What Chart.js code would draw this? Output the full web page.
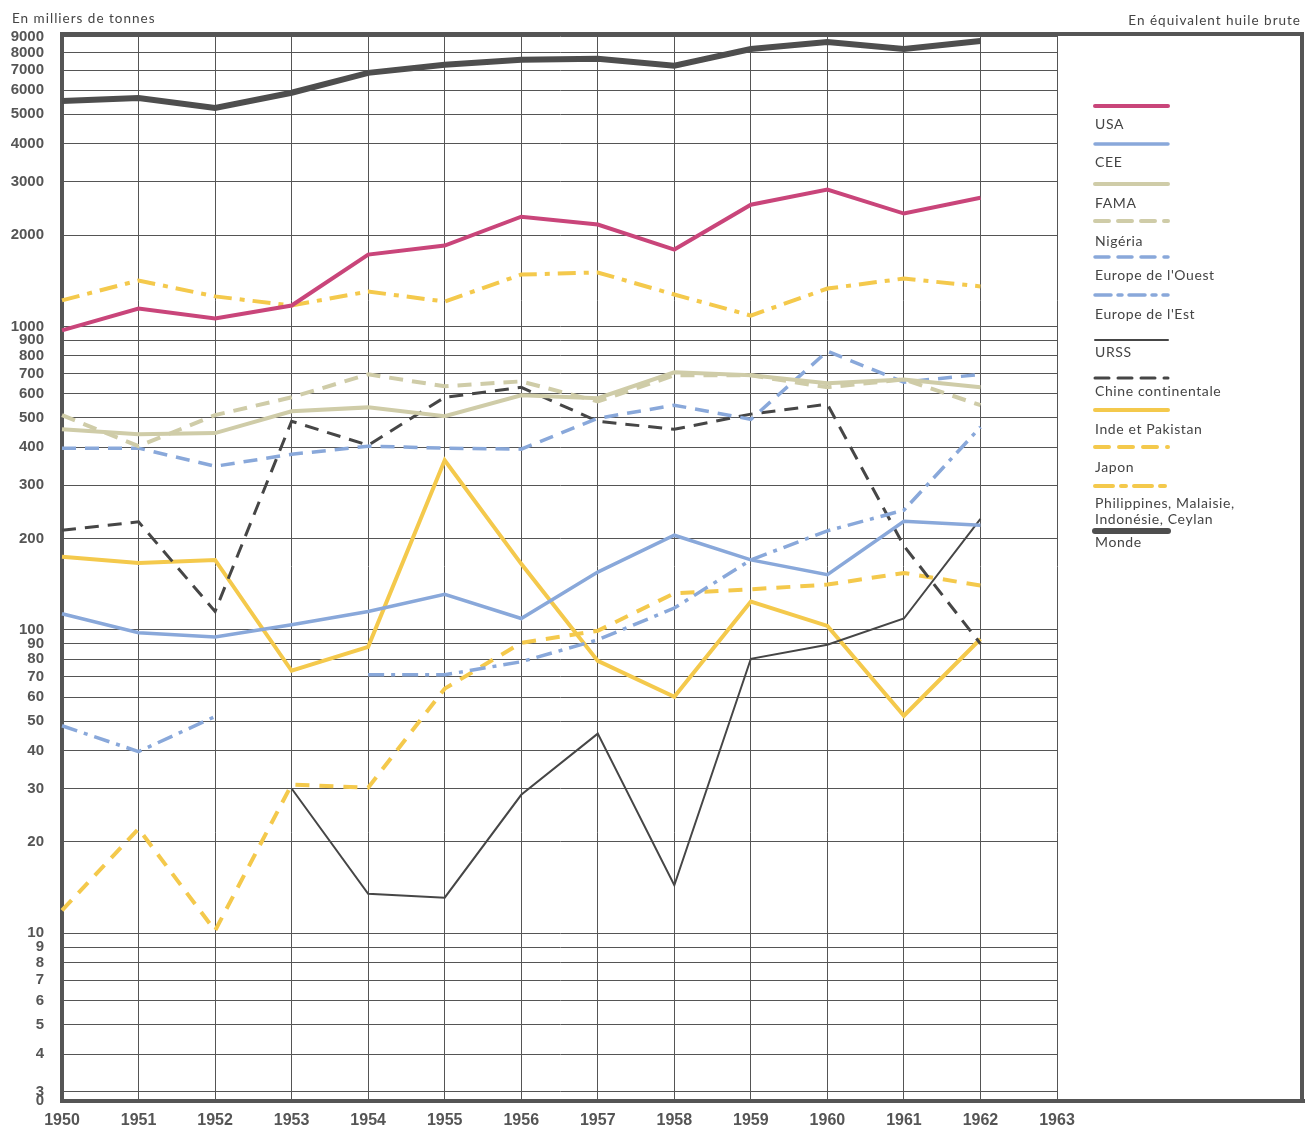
<!DOCTYPE html>
<html>
<head>
<meta charset="utf-8">
<script src="https://cdn.jsdelivr.net/npm/chart.js@4.4.1/dist/chart.umd.min.js"></script>
<style>
  body { margin: 0; background: #fff; }
  #wrap { width: 1305px; height: 1128px; }
</style>
</head>
<body>
<div id="wrap"><canvas id="chart" width="1305" height="1128"></canvas></div>
<script>
// years on the x axis (1963 has no data, only a grid line)
var years = ['1950','1951','1952','1953','1954','1955','1956','1957','1958','1959','1960','1961','1962','1963'];
var yTicks = [2.8, 3, 4, 5, 6, 7, 8, 9, 10, 20, 30, 40, 50, 60, 70, 80, 90, 100, 200, 300, 400, 500, 600, 700, 800, 900,
              1000, 2000, 3000, 4000, 5000, 6000, 7000, 8000, 9000];

// en milliers de tonnes
var usa        = [970, 1146, 1062, 1172, 1725, 1847, 2300, 2167, 1792, 2519, 2824, 2355, 2654];
var cee        = [113, 97.8, 94.8, 104, 115, 131, 109, 155, 205, 170, 152, 228, 221];
var fama       = [458, 441, 445, 525, 541, 506, 593, 580, 706, 690, 650, 669, 630];
var nigeria    = [510, 403, 510, 584, 695, 635, 659, 566, 690, 690, 630, 669, 550];
var europeOuest = [397, 397, 346, 379, 403, 397, 394, 498, 550, 494, 828, 655, 695];
var europeEst  = [48.3, 39.7, 51.8, null, 71.1, 71.1, 78.5, 92.7, 118, 170, 212, 248, 466];
var urss       = [null, null, null, 30.0, 13.5, 13.1, 28.6, 45.5, 14.4, 80.3, 89.3, 109, 232];
var chine      = [213, 227, 115, 487, 406, 584, 630, 487, 458, 514, 554, 189, 90];
var inde       = [174, 166, 170, 73.3, 87.9, 362, 165, 79, 60.2, 124, 103, 52.1, 93.3];
var japon      = [11.9, 22.1, 10.2, 30.9, 30.2, 64, 90.6, 99.3, 132, 136, 141, 154, 140];
var philippines = [1219, 1417, 1256, 1172, 1303, 1208, 1482, 1506, 1274, 1086, 1333, 1438, 1355];
var monde      = [5535, 5660, 5250, 5890, 6850, 7280, 7560, 7620, 7230, 8210, 8660, 8210, 8730];

var pink = '#c9457a', blue = '#89a8da', khaki = '#cfcca8', dark = '#464646', yellow = '#f4c94c';

function ds(label, data, color, width, dash) {
  return {
    label: label, data: data, borderColor: color, borderWidth: width,
    borderDash: dash || [], borderCapStyle: 'butt', borderJoinStyle: 'miter',
    pointRadius: 0, tension: 0, spanGaps: false, fill: false
  };
}

var datasets = [
  ds('USA', usa, pink, 4),
  ds('CEE', cee, blue, 3.5),
  ds('FAMA', fama, khaki, 4),
  ds('Nigéria', nigeria, khaki, 4, [14, 9]),
  ds("Europe de l'Ouest", europeOuest, blue, 3.5, [14, 9]),
  ds("Europe de l'Est", europeEst, blue, 3.5, [16, 7, 4, 7]),
  ds('URSS', urss, dark, 2),
  ds('Chine continentale', chine, dark, 3, [14, 9]),
  ds('Inde et Pakistan', inde, yellow, 4),
  ds('Japon', japon, yellow, 4, [14, 10]),
  ds('Philippines, Malaisie,\nIndonésie, Ceylan', philippines, yellow, 4, [18, 8, 5, 8]),
  ds('Monde', monde, '#4e4e4e', 6)
];

var textFont = '"Lato", "DejaVu Sans", sans-serif';

var framePlugin = {
  id: 'frame',
  afterDraw: function(chart) {
    var ctx = chart.ctx, a = chart.chartArea;
    ctx.save();
    ctx.strokeStyle = '#555';
    ctx.lineWidth = 4;
    ctx.setLineDash([]);
    ctx.beginPath();
    ctx.moveTo(a.left - 2, a.top); ctx.lineTo(1303, a.top);
    ctx.moveTo(1302, a.top - 2); ctx.lineTo(1302, a.bottom + 2);
    ctx.moveTo(a.right, a.bottom); ctx.lineTo(1305, a.bottom);
    ctx.stroke();

    ctx.fillStyle = '#444';
    ctx.font = '13.5px ' + textFont;
    ctx.letterSpacing = '1px';
    ctx.textBaseline = 'middle';
    ctx.textAlign = 'left';
    ctx.fillText('En milliers de tonnes', 12, 19);
    ctx.textAlign = 'right';
    ctx.fillText('En équivalent huile brute', 1301, 21);

    // legend : sample line above each label
    var sampleY = [106, 144, 184, 221, 257, 295, 340, 378, 410, 447, 486, 531];
    var labelY = [124, 162, 203, 241, 275, 314, 352, 391, 429, 467, 503, 542];
    ctx.textAlign = 'left';
    ctx.font = '14px ' + textFont;
    ctx.letterSpacing = '0.6px';
    chart.data.datasets.forEach(function(d, i) {
      ctx.strokeStyle = d.borderColor;
      ctx.lineWidth = d.borderWidth;
      ctx.setLineDash(d.borderDash);
      ctx.lineCap = 'round';
      ctx.beginPath();
      ctx.moveTo(1095, sampleY[i]);
      ctx.lineTo(1168, sampleY[i]);
      ctx.stroke();
      ctx.fillStyle = '#444';
      d.label.split('\n').forEach(function(line, k) {
        ctx.fillText(line, 1095, labelY[i] + k * 16);
      });
    });
    ctx.restore();
  }
};

new Chart(document.getElementById('chart'), {
  type: 'line',
  data: { labels: years, datasets: datasets },
  options: {
    responsive: false,
    animation: false,
    layout: { padding: { left: 0, top: 34, right: 248, bottom: 0 } },
    plugins: { legend: { display: false }, tooltip: { enabled: false } },
    scales: {
      x: {
        type: 'category',
        offset: false,
        grid: { color: '#555', lineWidth: 1, drawTicks: false },
        border: { display: true, color: '#555', width: 4 },
        ticks: {
          autoSkip: false, maxRotation: 0, padding: 10,
          color: '#555', font: { family: '"Liberation Sans", Arial, sans-serif', size: 16, weight: 'bold' }
        },
        afterFit: function(s) { s.height = 26; }
      },
      y: {
        type: 'logarithmic',
        min: 2.8,
        max: 9200,
        afterBuildTicks: function(s) {
          s.ticks = yTicks.map(function(v) { return { value: v }; });
        },
        grid: { color: '#555', lineWidth: 1, drawTicks: false },
        border: { display: true, color: '#555', width: 4 },
        ticks: {
          autoSkip: false, padding: 18,
          color: '#555', font: { family: '"Liberation Sans", Arial, sans-serif', size: 15, weight: 'bold' },
          callback: function(v) { return v === 2.8 ? '0' : String(v); }
        },
        afterFit: function(s) { s.width = 62; }
      }
    }
  },
  plugins: [framePlugin]
});
</script>
</body>
</html>
